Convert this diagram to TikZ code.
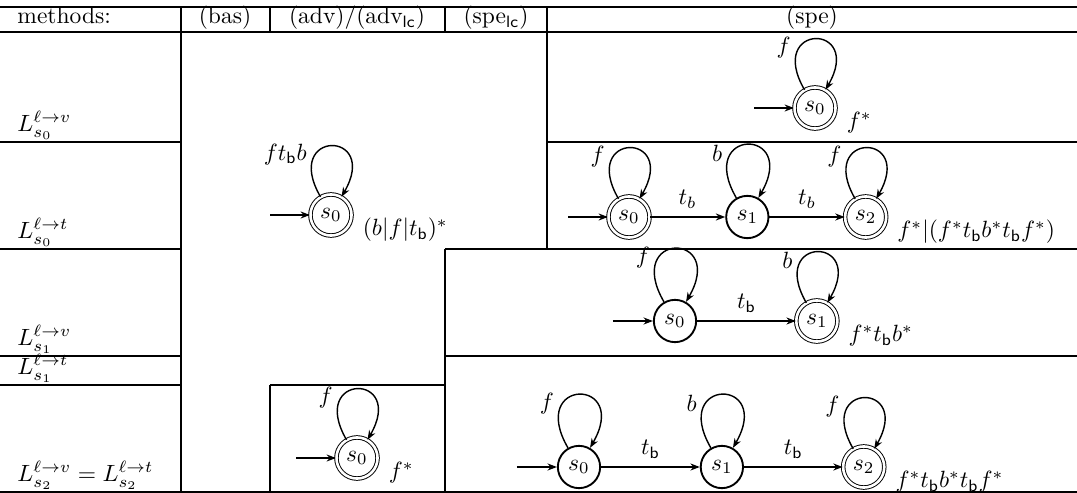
\documentclass[tikz,border=0pt]{standalone}
\usepackage{amsmath,amssymb}
\usetikzlibrary{arrows.meta,positioning}

\begin{document}
\begin{tikzpicture}[x=0.4255pt, y=-0.4255pt, >={Stealth[length=4pt,width=3pt]},
      rule/.style={line width=0.5pt},
      snode/.style={draw, circle, thick, minimum size=18pt, inner sep=1pt},
      fnode/.style={draw, circle, double, double distance=1.1pt, minimum size=17.5pt, inner sep=1pt},
      arr/.style={->, semithick},
      lp/.style={out=120, in=60, looseness=9.5},
      lang/.style={anchor=west, inner sep=1pt},
      rowlab/.style={anchor=base west, inner sep=0pt},
      head/.style={anchor=base, inner sep=0pt}
    ]
    \useasboundingbox (0,0) rectangle (1077,493);

    \draw[rule] (0,7) -- (1077,7) (0,32) -- (1077,32) (0,492) -- (1077,492);
    \draw[rule] (181,7) -- (181,492) (270,7) -- (270,32) (445,7) -- (445,32)
                (547,7) -- (547,249) (445,249) -- (445,492) (270,385) -- (270,492);
    \draw[rule] (0,142) -- (181,142) (547,142) -- (1077,142);
    \draw[rule] (0,249) -- (181,249) (445,249) -- (1077,249);
    \draw[rule] (0,356) -- (181,356) (445,356) -- (1077,356);
    \draw[rule] (0,385) -- (181,385) (270,385) -- (445,385);

    \node[rowlab] (hm) at (17,24) {methods:};
    \node[head] (hbas) at (225,24) {(bas)};
    \node[head] (hadv) at (357,24) {(adv)/(adv$_{\mathsf{lc}}$)};
    \node[head] (hspelc) at (496,24) {(spe$_{\mathsf{lc}}$)};
    \node[head] (hspe) at (812,24) {(spe)};

    \node[rowlab] (l0v) at (17,131.5) {$L_{s_0}^{\ell\to v}$};
    \node[rowlab] (l0t) at (17,238.5) {$L_{s_0}^{\ell\to t}$};
    \node[rowlab] (l1v) at (17,345.5) {$L_{s_1}^{\ell\to v}$};
    \node[rowlab] (l1t) at (17,374.5) {$L_{s_1}^{\ell\to t}$};
    \node[rowlab] (l2) at (17,481.5) {$L_{s_2}^{\ell\to v} = L_{s_2}^{\ell\to t}$};

    % bas / adv / spe_lc, rows s0
    \node[fnode] (b0) at (331,215) {$s_0$};
    \coordinate[left=17pt of b0.west] (bi);
    \draw[arr] (bi) -- (b0);
    \draw[arr] (b0.120) to[lp] node[pos=.3, left] {$ft_{\mathsf{b}}b$} (b0.60);
    \node[lang, right=6pt of b0.south east] (bl) {$(b|f|t_{\mathsf{b}})^*$};

    % adv, row s2
    \node[fnode] (a0) at (357,458) {$s_0$};
    \coordinate[left=17pt of a0.west] (ai);
    \draw[arr] (ai) -- (a0);
    \draw[arr] (a0.120) to[lp] node[pos=.3, left] {$f$} (a0.60);
    \node[lang, right=6pt of a0.south east] (al) {$f^*$};

    % spe, row s0 v
    \node[fnode] (p0) at (815,108) {$s_0$};
    \coordinate[left=17pt of p0.west] (pi);
    \draw[arr] (pi) -- (p0);
    \draw[arr] (p0.120) to[lp] node[pos=.3, left] {$f$} (p0.60);
    \node[lang, right=6pt of p0.south east] (pl) {$f^*$};

    % spe, row s0 t
    \node[fnode] (q0) at (629,217) {$s_0$};
    \node[snode, right=32pt of q0] (q1) {$s_1$};
    \node[fnode, right=32pt of q1] (q2) {$s_2$};
    \coordinate[left=17pt of q0.west] (qi);
    \draw[arr] (qi) -- (q0);
    \draw[arr] (q0) -- node[above] {$t_b$} (q1);
    \draw[arr] (q1) -- node[above] {$t_b$} (q2);
    \draw[arr] (q0.120) to[lp] node[pos=.3, left] {$f$} (q0.60);
    \draw[arr] (q1.120) to[lp] node[pos=.3, left] {$b$} (q1.60);
    \draw[arr] (q2.120) to[lp] node[pos=.3, left] {$f$} (q2.60);
    \node[lang, right=6pt of q2.south east] (ql)
      {$f^*|(f^*t_{\mathsf{b}}b^*t_{\mathsf{b}}f^*)$};

    % spe, row s1
    \node[snode] (u0) at (675,321) {$s_0$};
    \node[fnode, right=42pt of u0] (u1) {$s_1$};
    \coordinate[left=17pt of u0.west] (ui);
    \draw[arr] (ui) -- (u0);
    \draw[arr] (u0) -- node[above] {$t_{\mathsf{b}}$} (u1);
    \draw[arr] (u0.120) to[lp] node[pos=.3, left] {$f$} (u0.60);
    \draw[arr] (u1.120) to[lp] node[pos=.3, left] {$b$} (u1.60);
    \node[lang, right=6pt of u1.south east] (ul) {$f^*t_{\mathsf{b}}b^*$};

    % spe, row s2
    \node[snode] (w0) at (579,467) {$s_0$};
    \node[snode, right=42pt of w0] (w1) {$s_1$};
    \node[fnode, right=42pt of w1] (w2) {$s_2$};
    \coordinate[left=17pt of w0.west] (wi);
    \draw[arr] (wi) -- (w0);
    \draw[arr] (w0) -- node[above] {$t_{\mathsf{b}}$} (w1);
    \draw[arr] (w1) -- node[above] {$t_{\mathsf{b}}$} (w2);
    \draw[arr] (w0.120) to[lp] node[pos=.3, left] {$f$} (w0.60);
    \draw[arr] (w1.120) to[lp] node[pos=.3, left] {$b$} (w1.60);
    \draw[arr] (w2.120) to[lp] node[pos=.3, left] {$f$} (w2.60);
    \node[lang, right=6pt of w2.south east] (wl) {$f^*t_{\mathsf{b}}b^*t_{\mathsf{b}}f^*$};
  \end{tikzpicture}
\end{document}
